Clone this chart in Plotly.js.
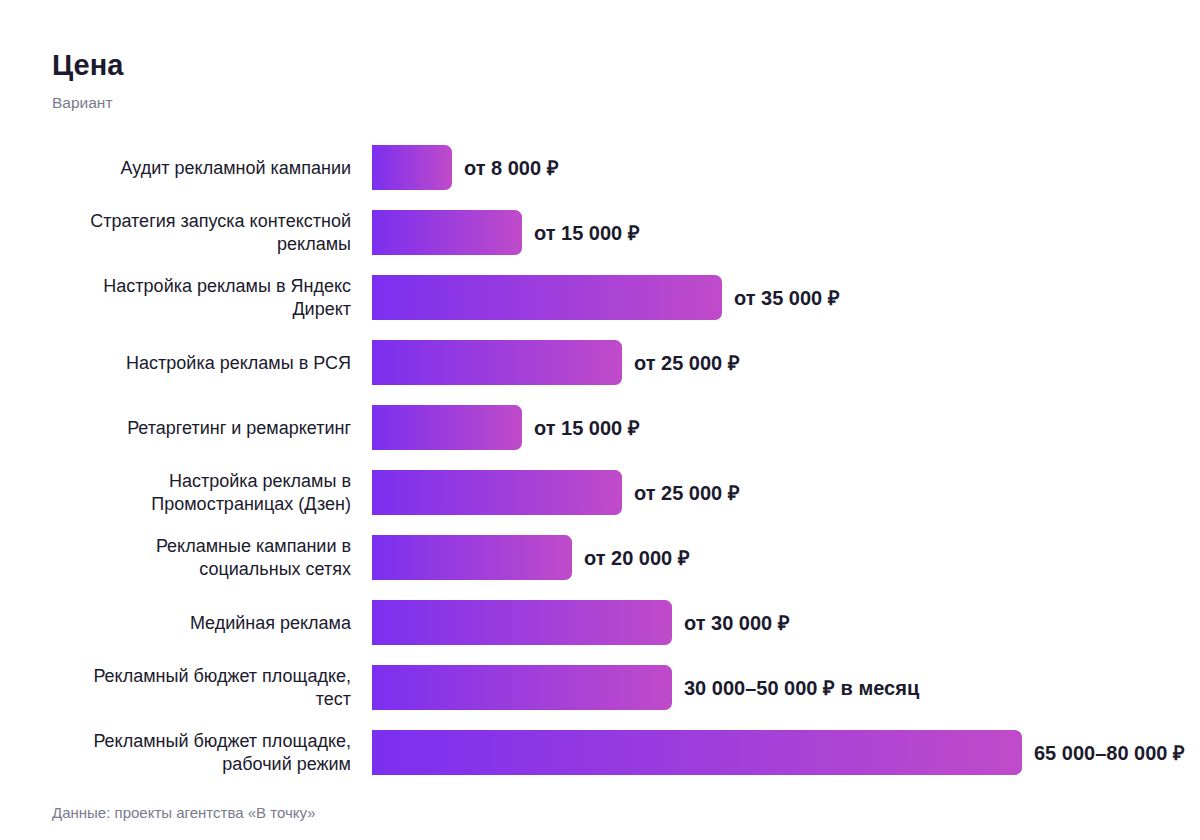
<!DOCTYPE html>
<html>
<head>
<meta charset="utf-8">
<script src="https://cdn.plot.ly/plotly-3.0.1.min.js"></script>
<style>
  html, body { margin: 0; padding: 0; background: #fff; }
  #chart { width: 1200px; height: 840px; }
</style>
</head>
<body>
<div id="chart"></div>
<script>
// service names (y categories)
var services = [
  "Аудит рекламной кампании",
  "Стратегия запуска контекстной<br>рекламы",
  "Настройка рекламы в Яндекс<br>Директ",
  "Настройка рекламы в РСЯ",
  "Ретаргетинг и ремаркетинг",
  "Настройка рекламы в<br>Промостраницах (Дзен)",
  "Рекламные кампании в<br>социальных сетях",
  "Медийная реклама",
  "Рекламный бюджет площадке,<br>тест",
  "Рекламный бюджет площадке,<br>рабочий режим"
];

// lower bound of the price, rubles
var prices = [8000, 15000, 35000, 25000, 15000, 25000, 20000, 30000, 30000, 65000];

// price labels shown next to the bars
var priceLabels = [
  "от 8 000 ₽",
  "от 15 000 ₽",
  "от 35 000 ₽",
  "от 25 000 ₽",
  "от 15 000 ₽",
  "от 25 000 ₽",
  "от 20 000 ₽",
  "от 30 000 ₽",
  "30 000–50 000 ₽ в месяц",
  "65 000–80 000 ₽"
];

var textColor = "#1b1a2e";
var fontFam = "Liberation Sans, Arial, sans-serif";

var trace = {
  type: "bar",
  orientation: "h",
  x: prices,
  y: services,
  width: 0.69,
  marker: { color: "#9a3fe0", cornerradius: 7 },
  hoverinfo: "skip"
};

var notes = [];
for (var i = 0; i < prices.length; i++) {
  notes.push({
    x: prices[i], y: services[i], xref: "x", yref: "y",
    text: "<b>" + priceLabels[i] + "</b>",
    showarrow: false, xanchor: "left", xshift: 10,
    font: { family: fontFam, size: 20, color: textColor }
  });
}
notes.push({
  xref: "paper", yref: "paper", x: -0.4, y: 1.05,
  xanchor: "left", yanchor: "middle", showarrow: false, xshift: -2,
  text: "Вариант",
  font: { family: fontFam, size: 15.5, color: "#7a7a8e" }
});
notes.push({
  xref: "paper", yref: "paper", x: -0.4, y: -0.0423,
  xanchor: "left", yanchor: "middle", showarrow: false, xshift: -2,
  text: "Данные: проекты агентства «В точку»",
  font: { family: fontFam, size: 15, color: "#7a7a8e" }
});

var layout = {
  width: 1200,
  height: 840,
  paper_bgcolor: "#fff",
  plot_bgcolor: "#fff",
  margin: { l: 372, r: 28, t: 135, b: 55 },
  showlegend: false,
  title: {
    text: "<b>Цена</b>",
    xref: "container", yref: "container",
    x: 52 / 1200, xanchor: "left",
    y: 1 - 65 / 840, yanchor: "middle",
    font: { family: fontFam, size: 29, color: textColor }
  },
  xaxis: {
    range: [0, 80000],
    visible: false,
    fixedrange: true
  },
  yaxis: {
    autorange: "reversed",
    showgrid: false,
    zeroline: false,
    showline: false,
    ticks: "",
    ticklabelstandoff: 20,
    tickfont: { family: fontFam, size: 18, color: textColor },
    fixedrange: true
  },
  annotations: notes
};

Plotly.newPlot("chart", [trace], layout, { displayModeBar: false, staticPlot: true }).then(function (gd) {
  // horizontal violet -> pink gradient on each bar
  var svg = gd.querySelector("svg.main-svg");
  var ns = "http://www.w3.org/2000/svg";
  var defs = svg.querySelector("defs");
  var grad = document.createElementNS(ns, "linearGradient");
  grad.setAttribute("id", "barGrad");
  grad.setAttribute("x1", "0"); grad.setAttribute("y1", "0");
  grad.setAttribute("x2", "1"); grad.setAttribute("y2", "0");
  var s1 = document.createElementNS(ns, "stop");
  s1.setAttribute("offset", "0"); s1.setAttribute("stop-color", "#7b2fef");
  var s2 = document.createElementNS(ns, "stop");
  s2.setAttribute("offset", "1"); s2.setAttribute("stop-color", "#c04bc9");
  grad.appendChild(s1); grad.appendChild(s2);
  defs.appendChild(grad);
  gd.querySelectorAll(".bars path").forEach(function (p) {
    p.style.fill = "url(#barGrad)";
    p.style.fillOpacity = 1;
  });
});
</script>
</body>
</html>
